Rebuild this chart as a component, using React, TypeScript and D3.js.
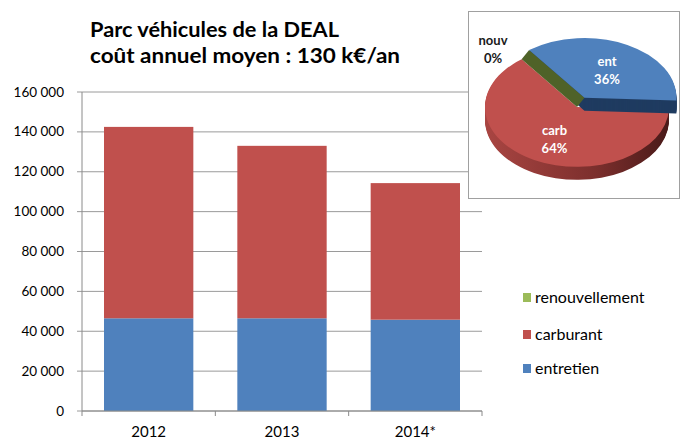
import React from 'react';
import * as d3 from 'd3';

const years = ['2012', '2013', '2014*'];
const entretien = [46500, 46500, 45800];
const carburant = [96000, 86500, 68500];
const renouvellement = [0, 0, 0];
const yTicks = [0, 20000, 40000, 60000, 80000, 100000, 120000, 140000, 160000];

const pieLabels = ['ent', 'carb', 'nouv'];
const pieValues = [36, 64, 0];

const seriesKeys = ['entretien', 'carburant', 'renouvellement'];
const colors: Record<string, string> = {
  entretien: '#4f81bd',
  carburant: '#c0504d',
  renouvellement: '#9bbb59',
};

const W = 681;
const H = 442;
const font = 'Lato, "Open Sans", sans-serif';

function fmt(v: number) {
  return d3.format(',')(v).replace(/,/g, ' ');
}

function App() {
  const margin = { top: 92, left: 82, right: 199, bottom: 31 };
  const x = d3
    .scaleBand()
    .domain(years)
    .range([margin.left, W - margin.right])
    .paddingInner(0.33)
    .paddingOuter(0.165);
  const y = d3.scaleLinear().domain([0, 160000]).range([H - margin.bottom, margin.top]);

  const rows = years.map((yr, i) => ({
    year: yr,
    entretien: entretien[i],
    carburant: carburant[i],
    renouvellement: renouvellement[i],
  }));
  const stacked = d3.stack<any>().keys(seriesKeys)(rows);

  // pie 3D
  const cx = 577;
  const cy = 107;
  const rx = 92;
  const tilt = 0.65;
  const depth = 13;
  const startA = (-37 * Math.PI) / 180;
  const pie = d3
    .pie<number>()
    .sort(null)
    .startAngle(startA)
    .endAngle(startA + Math.PI * 2);
  const arcs = pie(pieValues);
  const arc = d3.arc<any>().innerRadius(0).outerRadius(rx);
  const sideColor = ['#1f3b60', 'url(#redSide)', '#4f6228'];
  const topColor = ['#4f81bd', '#c0504d', '#9bbb59'];
  const explode = [16, 0, 0];

  const offset = (i: number) => {
    const a = arcs[i];
    const mid = (a.startAngle + a.endAngle) / 2;
    return [Math.sin(mid) * explode[i], -Math.cos(mid) * explode[i] * tilt];
  };

  const sides = (i: number) => {
    const [ox, oy] = offset(i);
    return d3.range(depth, 0, -1).map((k) => (
      <path
        key={`s${i}-${k}`}
        d={arc(arcs[i]) || ''}
        fill={sideColor[i]}
        transform={`translate(${cx + ox},${cy + oy + k}) scale(1,${tilt})`}
      />
    ));
  };
  const top = (i: number) => {
    const [ox, oy] = offset(i);
    return (
      <path
        key={`t${i}`}
        d={arc(arcs[i]) || ''}
        fill={topColor[i]}
        transform={`translate(${cx + ox},${cy + oy}) scale(1,${tilt})`}
      />
    );
  };

  // thin wall of the 0% slice, seen in the gap left by the exploded slice
  const wa = arcs[2].startAngle;
  const rimX = cx + Math.sin(wa) * rx;
  const rimY = cy - Math.cos(wa) * rx * tilt;
  const bo = offset(0);
  const wall = [
    [cx, cy],
    [rimX, rimY],
    [rimX + bo[0], rimY + bo[1]],
    [cx + bo[0], cy + bo[1]],
  ];

  const labelPos = (i: number) => {
    const [ox, oy] = offset(i);
    const c = d3.arc<any>().innerRadius(0).outerRadius(rx * 1.05).centroid(arcs[i]);
    return [cx + ox + c[0], cy + oy + c[1] * tilt];
  };

  const legendRows = [
    { key: 'renouvellement', y: 303 },
    { key: 'carburant', y: 340 },
    { key: 'entretien', y: 374 },
  ];

  return (
    <svg
      width={W}
      height={H}
      style={{ position: 'absolute', left: 0, top: 0, background: '#fff' }}
      fontFamily={font}
    >
      <defs>
        <linearGradient id='redSide' x1='0' x2='1' y1='0' y2='0'>
          <stop offset='0%' stopColor='#a94542' />
          <stop offset='60%' stopColor='#7c2f2d' />
          <stop offset='100%' stopColor='#4a1a19' />
        </linearGradient>
      </defs>
      <rect width={W} height={H} fill='#fff' />

      {/* title */}
      <text x={90} y={37} fontSize={20.5} fontWeight='bold' fill='#000' textLength={249} lengthAdjust='spacingAndGlyphs'>
        Parc véhicules de la DEAL
      </text>
      <text x={90} y={63} fontSize={20.5} fontWeight='bold' fill='#000' textLength={310} lengthAdjust='spacingAndGlyphs'>
        coût annuel moyen : 130 k€/an
      </text>

      {/* grid */}
      {yTicks.map((t) => (
        <g key={t}>
          <line
            x1={margin.left - 5}
            x2={W - margin.right}
            y1={y(t)}
            y2={y(t)}
            stroke='#9a9a9a'
            strokeWidth={1}
          />
          <text x={64} y={y(t) + 4.5} fontSize={13.5} textAnchor='end' fill='#000'>
            {fmt(t)}
          </text>
        </g>
      ))}

      {/* bars */}
      {stacked.map((s) => (
        <g key={s.key} fill={colors[s.key]}>
          {s.map((d, i) => (
            <rect
              key={i}
              x={x(years[i])}
              width={x.bandwidth()}
              y={y(d[1])}
              height={Math.max(0, y(d[0]) - y(d[1]))}
            />
          ))}
        </g>
      ))}

      {/* axes */}
      <line x1={margin.left} x2={margin.left} y1={margin.top} y2={y(0)} stroke='#8a8a8a' />
      <line x1={margin.left} x2={W - margin.right} y1={y(0)} y2={y(0)} stroke='#8a8a8a' />
      {years.map((yr) => (
        <line
          key={yr}
          x1={x(yr)! - (x.step() * x.paddingInner()) / 2}
          x2={x(yr)! - (x.step() * x.paddingInner()) / 2}
          y1={y(0)}
          y2={y(0) + 5}
          stroke='#8a8a8a'
        />
      ))}
      <line x1={W - margin.right} x2={W - margin.right} y1={y(0)} y2={y(0) + 5} stroke='#8a8a8a' />
      {years.map((yr) => (
        <text
          key={yr}
          x={x(yr)! + x.bandwidth() / 2}
          y={437}
          fontSize={15}
          textAnchor='middle'
          fill='#000'
        >
          {yr}
        </text>
      ))}

      {/* legend */}
      {legendRows.map((r) => (
        <g key={r.key}>
          <rect x={523} y={r.y - 10} width={8} height={9} fill={colors[r.key]} />
          <text x={535} y={r.y} fontSize={16} fill='#000'>
            {r.key}
          </text>
        </g>
      ))}

      {/* pie box */}
      <rect x={468.5} y={11.5} width={211} height={187} fill='#fff' stroke='#a0a0a0' />
      {sides(1)}
      {top(1)}
      {sides(0)}
      <polygon points={wall.map((p) => p.join(',')).join(' ')} fill='#4f6228' />
      {top(0)}
      {[0, 1].map((i) => {
        const [lx, ly] = labelPos(i);
        return (
          <text key={i} x={lx} y={ly} fontSize={13} fontWeight='bold' fill='#fff' textAnchor='middle'>
            <tspan x={lx} dy={i === 1 ? 0 : -4}>
              {pieLabels[i]}
            </tspan>
            <tspan x={lx} dy={18}>
              {pieValues[i]}%
            </tspan>
          </text>
        );
      })}
      <text x={493} y={45} fontSize={13} fontWeight='bold' fill='#1a1a1a' textAnchor='middle'>
        <tspan x={493}>{pieLabels[2]}</tspan>
        <tspan x={493} dy={18}>
          {pieValues[2]}%
        </tspan>
      </text>
    </svg>
  );
}

export default App;
